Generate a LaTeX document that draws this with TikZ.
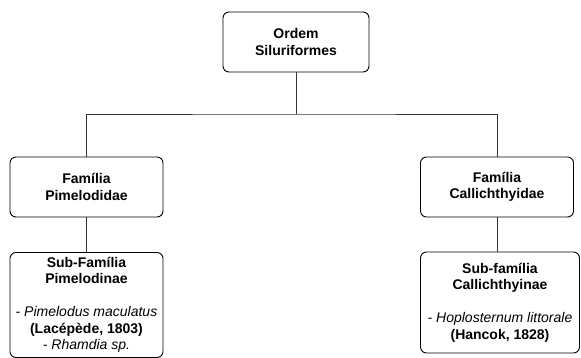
\documentclass[tikz,border=0pt]{standalone}
\usepackage{fontspec}
\setmainfont{Liberation Sans}
\usetikzlibrary{calc}
\tikzset{
  taxbox/.style={draw=black, line width=0.9pt, rounded corners=6pt, fill=white,
    align=center, inner sep=0pt, font=\fontsize{14}{16.5}\selectfont},
  link/.style={draw=black!80, line width=0.9pt}
}

\begin{document}
\begin{tikzpicture}[x=1pt, y=-1pt]
		%%%%% START %%%%%
		\useasboundingbox (0, 0) rectangle (581, 358);
		
		\node[taxbox, minimum width=146pt, minimum height=60pt] (ordem) at (296, 42) {\textbf{Ordem}\\\textbf{Siluriformes}};
		
		\node[taxbox, minimum width=153pt, minimum height=60pt] (famP) at (86.5, 187) {\textbf{Família}\\\textbf{Pimelodidae}};
		\node[taxbox, minimum width=153pt, minimum height=60pt] (famC) at (497, 187) {\textbf{Família}\\\textbf{Callichthyidae}};
		
		\node[taxbox, minimum width=153pt, minimum height=105pt] (subP) at (86.5, 305) {\textbf{Sub-Família}\\\textbf{Pimelodinae}\\[16.5pt]\textit{- Pimelodus maculatus}\\\textbf{(Lacépède, 1803)}\\\textit{- Rhamdia sp.}};
		\node[taxbox, minimum width=159pt, minimum height=101pt] (subC) at (500, 302.5) {\textbf{Sub-família}\\\textbf{Callichthyinae}\\[16.5pt]\textit{- Hoplosternum littorale}\\\textbf{(Hancok, 1828)}};
		
		\coordinate (split) at (296, 114);
		\draw[link] (ordem.south) -- (split);
		\draw[link] (famP.north) |- (split) -| (famC.north);
		
		\draw[link] (famP.south) -- (famP.south |- subP.north);
		\draw[link] (famC.south) -- (famC.south |- subC.north);
		
		%%%%% END %%%%%
	\end{tikzpicture}
\end{document}
